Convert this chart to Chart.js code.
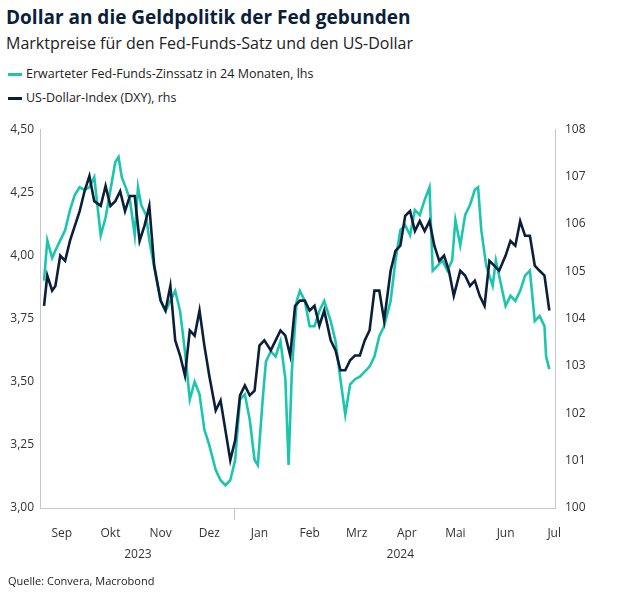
<!DOCTYPE html>
<html><head><meta charset="utf-8">
<script src="https://cdn.jsdelivr.net/npm/chart.js@4"></script>
<style>
body{margin:0;width:640px;height:595px;position:relative;font-family:"Open Sans",sans-serif;background:#fff;color:#0b1f3a;overflow:hidden}
#t{position:absolute;left:6px;top:4px;font-size:19px;font-weight:bold}
#s{position:absolute;left:6px;top:32px;font-size:16px;color:#222}
.lg{position:absolute;left:8px;font-size:12.5px;color:#222}
.lg i{display:inline-block;width:14px;height:3px;vertical-align:middle;margin-right:4px}
#src{position:absolute;left:8px;top:573px;font-size:11px;color:#222}
#w{position:absolute;left:0;top:112px;width:640px;height:462px}
</style></head><body>
<div id="t">Dollar an die Geldpolitik der Fed gebunden</div>
<div id="s">Marktpreise für den Fed-Funds-Satz und den US-Dollar</div>
<div class="lg" style="top:65px"><i style="background:#1cc6ae"></i>Erwarteter Fed-Funds-Zinssatz in 24 Monaten, lhs</div>
<div class="lg" style="top:89px"><i style="background:#0b1f3a"></i>US-Dollar-Index (DXY), rhs</div>
<div id="w"><canvas id="c"></canvas></div>
<div id="src">Quelle: Convera, Macrobond</div>
<script>
// days since 21 Aug 2023
const fedDays = [0,2,5,7,10,13,16,19,22,25,28,31,35,38,41,44,46,48,51,53,56,58,60,63,65,69,72,75,78,81,84,87,90,93,96,99,102,106,109,112,115,118,121,124,127,130,132,135,137,140,143,146,149,151,153,156,158,161,164,167,170,173,177,180,183,186,189,192,195,198,201,204,207,210,214,217,220,223,226,229,232,235,238,240,243,246,249,252,254,257,260,263,266,268,270,273,277,279,281,285,288,291,294,297,300,303,306,309,310,312];
const fed = [3.90,4.06,3.99,4.02,4.06,4.10,4.18,4.24,4.27,4.26,4.27,4.31,4.08,4.15,4.26,4.37,4.39,4.31,4.26,4.22,4.08,4.27,4.20,4.16,4.06,3.92,3.82,3.78,3.82,3.86,3.78,3.62,3.43,3.50,3.45,3.31,3.25,3.15,3.11,3.09,3.11,3.19,3.43,3.45,3.35,3.19,3.17,3.43,3.58,3.62,3.60,3.66,3.51,3.17,3.54,3.82,3.86,3.82,3.72,3.72,3.78,3.82,3.74,3.66,3.51,3.37,3.49,3.51,3.52,3.54,3.56,3.60,3.68,3.72,3.82,3.98,4.10,4.12,4.08,4.18,4.16,4.22,4.27,3.94,3.96,3.98,3.94,3.98,4.14,4.04,4.16,4.20,4.26,4.27,4.10,3.96,3.88,3.98,3.92,3.80,3.84,3.82,3.86,3.92,3.94,3.74,3.76,3.72,3.60,3.55];
const dxyDays = [0,2,5,7,10,13,16,19,22,25,28,31,35,38,41,44,47,50,53,56,59,62,65,68,72,75,78,81,84,87,90,93,96,99,102,106,109,112,115,118,121,124,127,130,133,136,140,143,146,149,152,155,158,161,164,167,170,173,177,180,183,186,189,192,195,198,201,204,207,210,214,217,220,223,226,229,232,235,238,241,244,247,250,253,257,260,263,266,269,272,275,278,281,285,288,291,294,297,300,303,306,309,312];
const dxy = [104.27,104.91,104.59,104.69,105.33,105.22,105.64,105.96,106.27,106.69,107.01,106.48,106.38,106.80,106.38,106.48,106.69,106.27,106.59,106.59,105.64,105.96,106.38,105.12,104.38,104.17,104.69,103.54,103.22,102.80,103.75,103.64,104.17,103.43,102.80,102.06,102.27,101.64,101.01,101.43,102.38,102.59,102.38,102.48,103.43,103.54,103.33,103.54,103.75,103.64,103.22,104.27,104.38,104.38,104.17,104.27,103.85,104.17,103.54,103.33,102.91,102.91,103.12,103.22,103.22,103.54,103.75,104.59,104.59,103.96,105.01,105.43,105.54,106.17,106.27,105.85,106.06,105.85,106.06,105.54,105.22,105.33,105.01,104.48,105.01,104.91,104.69,104.80,104.48,104.27,105.22,105.12,105.01,105.33,105.64,105.54,106.06,105.75,105.75,105.12,105.01,104.91,104.17];
const monthDays = [11,41,72,102,133,164,193,224,254,285,315];
const monthLabels = ['Sep','Okt','Nov','Dez','Jan','Feb','Mrz','Apr','Mai','Jun','Jul'];
const yearDays = [58,220];
const yearLabels = ['2023','2024'];

const pts = (d, v) => v.slice(0, Math.min(d.length, v.length)).map((y, i) => ({x: d[i], y}));
const axisCol = '#c4c8cc', txt = '#333';
const font = {family: '"Open Sans", sans-serif', size: 12};

const extras = {
  id: 'extras',
  afterDraw(ch) {
    const c = ch.ctx, x = ch.scales.x, b = ch.chartArea.bottom;
    c.save();
    c.fillStyle = txt; c.font = '12px "Open Sans", sans-serif'; c.textAlign = 'center';
    yearDays.forEach((d, i) => c.fillText(yearLabels[i], x.getPixelForValue(d), b + 50));
    c.strokeStyle = axisCol; c.lineWidth = 1;
    const px = Math.round(x.getPixelForValue(117)) + 0.5;
    c.beginPath(); c.moveTo(px, b); c.lineTo(px, b + 12); c.stroke();
    c.restore();
  }
};

new Chart(document.getElementById('c'), {
  type: 'line',
  data: { datasets: [
    { data: pts(dxyDays, dxy), yAxisID: 'y1', borderColor: '#0b1f3a', borderWidth: 2.6, pointRadius: 0, tension: 0 },
    { data: pts(fedDays, fed), yAxisID: 'y', borderColor: '#1cc6ae', borderWidth: 2.6, pointRadius: 0, tension: 0 }
  ]},
  options: {
    responsive: true, maintainAspectRatio: false, animation: false,
    layout: { padding: { top: 16, left: 0, right: 0, bottom: 0 } },
    plugins: { legend: { display: false }, tooltip: { enabled: false } },
    scales: {
      x: { type: 'linear', min: -2.5, max: 315.5,
        afterBuildTicks: s => { s.ticks = monthDays.map(v => ({value: v})); },
        afterFit: s => { s.height = 66; },
        grid: { display: false, drawTicks: false }, border: { color: axisCol },
        ticks: { color: txt, font, padding: 18, maxRotation: 0, autoSkip: false,
          callback: v => monthLabels[monthDays.indexOf(v)] } },
      y: { position: 'left', min: 3, max: 4.5,
        afterBuildTicks: s => { s.ticks = [3, 3.25, 3.5, 3.75, 4, 4.25, 4.5].map(v => ({value: v})); },
        afterFit: s => { s.width = 40; },
        grid: { display: false, drawTicks: false }, border: { color: axisCol },
        ticks: { color: txt, font, padding: 6, callback: v => v.toFixed(2).replace('.', ',') } },
      y1: { position: 'right', min: 100, max: 108,
        afterBuildTicks: s => { s.ticks = [100,101,102,103,104,105,106,107,108].map(v => ({value: v})); },
        afterFit: s => { s.width = 85; },
        grid: { display: false, drawTicks: false }, border: { color: axisCol },
        ticks: { color: txt, font, padding: 10, callback: v => String(v) } }
    }
  },
  plugins: [extras]
});
</script>
</body></html>
